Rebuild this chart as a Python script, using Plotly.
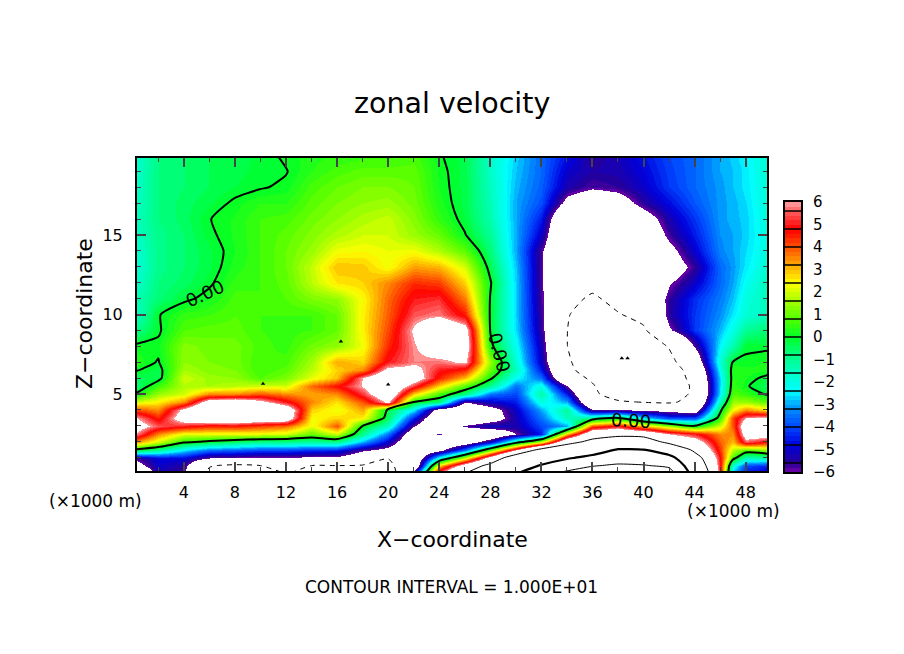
import numpy as np
import plotly.graph_objects as go

x_km = [0,2,4,6,8,10,12,14,16,18,20,22,24,26,28,30,32,34,36,38,40,42,44,46,47,48,50]
z_km = [.1,.5,1,1.5,2,2.5,3,3.5,4,4.5,5,5.5,6,6.5,7,8,9,10,11,12,13,14,15,16,17,18,19,20]

c0 = [-9,-7,-5.8,0,3.5,6.2,7,6.3,4.2,2,-.1,-.9,-.5,.1,.4,.1,-1,-1.9,-1.5,-1.8,-2,-1.9,-1.7,-1.6,-1.7,-1.8,-1.8,-1.9]
c2 = [-5.2,-5,-4.8,-1,2,3.5,5.5,4.5,3.5,2.5,1.5,.6,-.3,-.3,-.05,.15,-.1,-.05,-.7,-.8,-.9,-.9,-.9,-.8,-.8,-.8,-.8,-.8]
c4 = [-5.8,-5.5,-4.8,-2.5,.3,2.2,5,7,6.5,3.5,2,1.7,2,1.6,1.4,1.3,.8,.5,-.15,-.5,-.6,-.6,-.6,-.5,-.5,-.6,-.6,-.6]
c6 = [-10.5,-9.8,-6,-3.5,-.2,2.2,4.5,8,9,7,3.5,1.6,1.5,1.3,1.2,1.1,.9,.6,.2,-.1,-.25,-.25,-.1,-.02,-.25,-.4,-.4,-.4]
c8 = [-10.5,-10.5,-6.1,-3.7,-.6,2.2,4.6,8,9.5,7.5,3.5,1.8,1.4,1.2,1.1,1.1,.9,.8,.7,.5,.3,.2,.25,.25,.1,-.2,-.3,-.25]
c10 = [-10.8,-10,-6.2,-4,-1,2.2,4.2,7.5,9,6.5,4,2,.8,.6,.6,.7,.6,.6,.6,.6,.6,.6,.6,.6,.4,-.05,-.1,-.2]
c12 = [-9.8,-9.7,-6.2,-4,-1,2,3.8,7.3,7.5,5,3.5,2,1.2,.9,.7,.5,.5,.6,.8,.9,1,1,.9,.7,.4,.1,-.03,.1]
c14 = [-10.5,-10,-6.3,-4.3,-1.2,1,2.2,2.3,2.8,3.5,3.2,3.8,2.2,1.8,1.6,1.1,.6,.6,1.2,1.8,1.9,1.5,1.3,1.1,.9,.7,.4,.3]
c16 = [-10.8,-10,-6.3,-4.4,-1,2,4,2.8,2.2,2.6,3.5,4.7,3,2.8,3.2,1.4,1,1,1.4,2.6,3,2.3,1.7,1.4,1.2,1,.7,.4]
c18 = [-11,-10.2,-7.5,-5.8,-3,-1,0,2.5,3.2,4,5.3,6.1,6.1,3.5,2.8,2.3,2.5,2.5,2.4,2.8,2.9,2.4,2,1.7,1.4,1.2,.9,.5]
c20 = [-12,-10.6,-9.9,-6.5,-5,-3.5,-1.6,-.5,-.3,6.3,7.5,8,8,6.5,5,4.4,4.1,3.9,3.8,3.5,2.3,2.2,2,1.9,1.5,1.2,.9,.5]
c22 = [-5.5,-8,-8,-8,-8,-7.5,-6,-4.5,-2.5,0,2.8,5.2,7,6.5,5.8,5.9,6.2,5.5,5,4.4,3.3,2.3,1.5,1.3,1.1,1,.9,.7]
c24 = [5.5,3,-2,-6.5,-8,-5.8,-8,-8,-7,-.7,.7,2.8,4.5,5,5.7,7,8,5.8,5.2,4.2,3.1,1.7,1,.5,.3,.2,.15,.05]
c26 = [9.5,7.5,2,-3.5,-7,-8,-5.8,-8,-8,-6,-.8,.8,3,4.5,6.2,7,6.7,4.6,3.6,2.8,2,.9,.05,-.2,-.3,-.3,-.3,-.3]
c28 = [13,11,7,1,-5,-8,-5,-7,-6.8,-5,-3.5,-1,.2,1,1.5,.3,-.05,-.1,-.05,.1,-.3,-.7,-1,-1.3,-1.4,-1.5,-1.6,-1.6]
c30 = [18.5,16,12.5,6,-1,-6,-5.3,-5.2,-5,-4.5,-4,-3.5,-2.3,-1.5,-1.8,-2.2,-2.6,-2.7,-2.7,-2.7,-2.8,-3,-3,-3,-3,-2.9,-2.8,-2.7]
c32 = [26,20.5,16,11,2,-4.5,-4,-3.5,-3,-2,-1.2,-2,-3.5,-4.5,-5,-5.2,-5.5,-5.6,-5.7,-5.8,-5.8,-5.8,-5,-4.5,-3.9,-3.7,-3.6,-3.6]
c34 = [31,25,19,13,8.5,3,-3,-1.5,-1,-3,-4.5,-6,-8.5,-9,-9.3,-9.9,-9.9,-9.5,-9,-9,-9,-9,-9,-8.5,-6.5,-5.3,-5,-4.6]
c36 = [34,29.5,22,16,11,8,4,-1,-5.8,-8.5,-9.2,-9.7,-10.5,-12,-13,-14,-14,-13.5,-10.5,-9,-9,-9,-8.5,-8,-7.5,-5.8,-5.4,-5.6]
c38 = [36,31,26,20.5,13,8.5,5,0,-5.8,-9.5,-12,-12.5,-13,-13.5,-14,-14.5,-13,-10.2,-9,-9,-9,-9,-8.5,-8,-6.8,-5.6,-5.3,-5.2]
c40 = [36,30.5,25,20,13,8,3,-2.5,-6.2,-10.2,-11.5,-12,-12.5,-13,-13,-12,-10.5,-9,-8,-8.5,-8.5,-8.2,-7.5,-6.8,-5.5,-5,-4.8,-4.6]
c42 = [33,28.5,22.5,15,8.5,6,1.5,-4,-6.5,-10.5,-11.5,-12,-12,-11.8,-11,-9.8,-6.2,-5.5,-5.6,-6.1,-7,-6.5,-5.7,-5.3,-4.7,-4.2,-4.1,-4]
c44 = [16,14,12,9,7,5,0,-4,-7,-9,-9.5,-9.5,-9,-8.5,-7.5,-5.8,-4.2,-4.2,-4.3,-5,-5.6,-4.9,-4.5,-4.2,-3.8,-3.6,-3.6,-3.6]
c46 = [5,5,4.8,4.3,3.9,3.5,2,.5,-.3,-1.5,-2.5,-2.6,-2.6,-2.2,-1.8,-2.4,-2.9,-3.2,-3.4,-3.6,-3.6,-3.3,-3.2,-3.1,-3.1,-3.1,-3,-3]
c47 = [-2.8,-2,.6,1.8,3,3.5,4,4.2,2.4,1.5,.8,.5,.4,.4,.05,-1.3,-2,-2.5,-2.8,-3,-3.1,-3,-3,-2.9,-2.9,-2.8,-2.8,-2.7]
c48 = [-4.5,-4,-1.5,.8,5.5,7,7.5,6,3.5,1.5,.5,.1,.2,.3,.05,-.05,-1,-1.8,-1.9,-2.2,-2.5,-2.6,-2.7,-2.7,-2.6,-2.5,-2.5,-2.4]
c50 = [-5,-4.5,-1.2,1.5,4.5,7,7.5,6.5,2.5,.8,-.2,-.6,-.2,.2,.3,-.1,-.6,-1.4,-1.4,-1.3,-1.6,-1.8,-1.8,-1.7,-1.7,-1.7,-1.6,-1.6]

columns = [c0,c2,c4,c6,c8,c10,c12,c14,c16,c18,c20,c22,c24,c26,c28,c30,c32,c34,c36,c38,c40,c42,c44,c46,c47,c48,c50]
velocity = np.array(columns, dtype=float).T.tolist()

spot_x = [10.2, 16.3, 20.0, 38.3, 38.75]
spot_z = [5.65, 8.3, 5.6, 7.25, 7.25]

cbar_ticks = [-6,-5,-4,-3,-2,-1,0,1,2,3,4,5,6]
cbar_labels = ["\u22126","\u22125","\u22124","\u22123","\u22122","\u22121","0","1","2","3","4","5","6"]
cbar_separators = [-5.6,-4.8,-4,-3.2,-2.4,-1.6,-.8,0,.8,1.6,2.4,3.2,4,4.8,5.6]
cbar_levels = [round(-5.9 + .2*i, 1) for i in range(60)]

anchor_levels = [-6,-5.6,-4.8,-4,-3.2,-2.4,-1.6,-.8,0,.8,1.6,2.4,3.2,4,4.8,5.6,6]
anchor_r = [118,40,0,0,0,0,0,0,0,80,165,255,255,255,255,255,255]
anchor_g = [0,0,0,70,140,255,255,255,255,255,255,255,170,80,0,95,165]
anchor_b = [170,150,220,255,255,255,200,130,40,0,0,0,0,0,0,95,165]

ZSPAN = 8.0
def norm(v):
    return round((v + ZSPAN) / (2 * ZSPAN), 5)

scale = [[0, "rgb(255,255,255)"], [norm(-6), "rgb(255,255,255)"]]
for lev in cbar_levels:
    col = "rgb(%d,%d,%d)" % (np.interp(lev, anchor_levels, anchor_r),
                             np.interp(lev, anchor_levels, anchor_g),
                             np.interp(lev, anchor_levels, anchor_b))
    scale += [[norm(round(lev - .1, 1)), col], [norm(round(lev + .1, 1)), col]]
scale += [[norm(6), "rgb(255,255,255)"], [1, "rgb(255,255,255)"]]

FONT = "DejaVu Sans"
W, H = 904, 654
MT, MB = 10, 10
fx = lambda p: p / W
fy = lambda p: 1 - (p - MT) / (H - MT - MB)

fig = go.Figure()
fig.add_trace(go.Heatmap(x=x_km, y=z_km, z=velocity, zsmooth="best", colorscale=scale,
                         zmin=-ZSPAN, zmax=ZSPAN, showscale=False, hoverinfo="skip"))

def contour(level, width, dash="solid"):
    fig.add_trace(go.Contour(x=x_km, y=z_km, z=velocity, showscale=False, hoverinfo="skip",
                             contours=dict(coloring="none", start=level, end=level, size=1),
                             line=dict(color="black", width=width, dash=dash, smoothing=.6)))

contour(0, 2.0)
contour(10, 1.0)
contour(20, 2.2)
contour(30, 1.0)
contour(-10, 1.0, "5px,5px")

fig.add_trace(go.Scatter(x=spot_x, y=spot_z, mode="markers", hoverinfo="skip",
                         marker=dict(symbol="triangle-up", size=4, color="black")))

fig.add_trace(go.Heatmap(x=[0, 1], y=cbar_levels, z=[[v, v] for v in cbar_levels], colorscale=scale,
                         zmin=-ZSPAN, zmax=ZSPAN, showscale=False, hoverinfo="skip",
                         xaxis="x2", yaxis="y2"))
for s in cbar_separators:
    fig.add_trace(go.Scatter(x=[0, 1], y=[s, s], mode="lines", xaxis="x2", yaxis="y2",
                             hoverinfo="skip", line=dict(color="black", width=1.5)))

axis_font = dict(family=FONT, size=16, color="black")
fig.update_layout(
    width=W, height=H, autosize=False, showlegend=False,
    margin=dict(l=0, r=0, t=MT, b=MB), paper_bgcolor="white", plot_bgcolor="white",
    font=axis_font,
    xaxis=dict(domain=[fx(137), fx(767)], range=[.33, 49.67], ticks="inside",
               ticklen=9, tickwidth=2, mirror="allticks", showline=True, linewidth=2, linecolor="black",
               showgrid=False, zeroline=False, tickfont=axis_font, ticklabelstandoff=6,
               minor=dict(ticks="inside", dtick=2, tick0=0, ticklen=4, tickwidth=1, showgrid=False),
               tickvals=list(range(4, 49, 4))),
    yaxis=dict(domain=[fy(471), fy(158)], range=[.16, 19.84], tickvals=[5, 10, 15], ticks="inside",
               ticklen=9, tickwidth=2, mirror="allticks", showline=True, linewidth=2, linecolor="black",
               showgrid=False, zeroline=False, tickfont=axis_font, ticklabelstandoff=9,
               minor=dict(ticks="inside", dtick=1, tick0=0, ticklen=4, tickwidth=1, showgrid=False)),
    xaxis2=dict(domain=[fx(785), fx(801)], range=[0, 1], anchor="y2", showticklabels=False, ticks="",
                showline=True, mirror=True, linewidth=2, linecolor="black", showgrid=False, zeroline=False),
    yaxis2=dict(domain=[fy(472), fy(202)], range=[-6, 6], anchor="x2", side="right", tickvals=cbar_ticks,
                ticktext=cbar_labels, ticks="", showline=True, mirror=True, linewidth=2, linecolor="black",
                showgrid=False, zeroline=False, tickfont=dict(family=FONT, size=15, color="black"),
                ticklabelstandoff=7),
)

def note(text, px, py, size, angle=0):
    fig.add_annotation(text=text, x=px / W, y=fy(py), xref="paper", yref="paper", showarrow=False,
                       font=dict(family=FONT, size=size, color="black"), textangle=angle,
                       xanchor="center", yanchor="middle")

note("zonal velocity", 452, 104, 28.5)
note("X\u2212coordinate", 452, 539, 22)
note("Z\u2212coordinate", 84, 314, 22, angle=-90)
note("CONTOUR INTERVAL = 1.000E+01", 451, 587, 17)
note("(\u00d71000 m)", 95, 501, 17)
note("(\u00d71000 m)", 733, 511, 17)

for lx, lz, ang in [(5.65, 11.3, -25), (28.7, 7.6, 75), (39.0, 3.35, 3)]:
    fig.add_annotation(text="0.00", x=lx, y=lz, xref="x", yref="y", showarrow=False, textangle=ang,
                       font=dict(family=FONT, size=18, color="black"))

fig.write_html("out.html", config={"displayModeBar": False},
               post_script="document.body.style.margin='0';")
